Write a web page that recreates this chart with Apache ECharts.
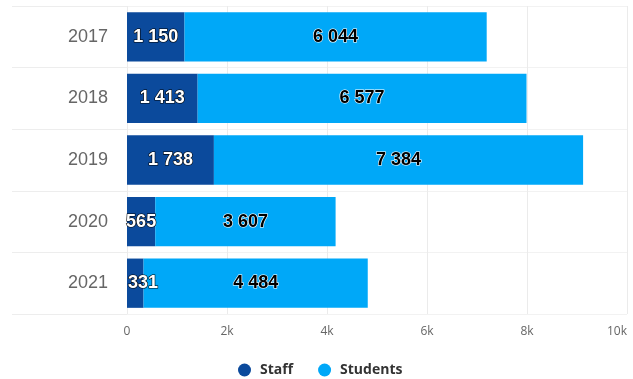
<!DOCTYPE html>
<html>
<head>
<meta charset="utf-8">
<style>
  html, body { margin: 0; padding: 0; background: #fff; }
  #chart { width: 633px; height: 379px; }
</style>
<script src="https://cdn.jsdelivr.net/npm/echarts@6/dist/echarts.min.js"></script>
</head>
<body>
<div id="chart"></div>
<script>
const years = ["2017", "2018", "2019", "2020", "2021"];
const staff = [1150, 1413, 1738, 565, 331];
const students = [6044, 6577, 7384, 3607, 4484];
const xTicks = ["0", "2k", "4k", "6k", "8k", "10k"];

const fmt = v => String(v).replace(/\B(?=(\d{3})+(?!\d))/g, " ");

const chart = echarts.init(document.getElementById("chart"));

// narrow staff segments: keep the label inside the plot like the original
const staffData = staff.map(v => v < 400
    ? { value: v, label: { position: "insideLeft", distance: 1 } }
    : v);

chart.setOption({
    animation: false,
    grid: { left: 127, right: 6, top: 6, bottom: 65, outerBoundsMode: "none" },
    legend: {
        top: 358,
        left: 233,
        icon: "circle",
        itemWidth: 13,
        itemHeight: 13,
        itemGap: 25,
        textStyle: {
            color: "#333",
            fontSize: 14,
            fontWeight: "bold",
            fontFamily: "Open Sans",
            padding: [0, 0, 0, 4]
        },
        data: ["Staff", "Students"]
    },
    xAxis: {
        type: "value",
        min: 0,
        max: 10000,
        interval: 2000,
        axisLine: { show: false },
        axisTick: { show: false },
        splitLine: { lineStyle: { color: "#ebebeb" } },
        axisLabel: {
            color: "#666",
            fontSize: 12,
            fontFamily: "Open Sans",
            margin: 12,
            alignMaxLabel: "right",
            formatter: v => xTicks[v / 2000]
        }
    },
    yAxis: {
        type: "category",
        inverse: true,
        data: years,
        axisLine: { show: false },
        axisTick: { show: true, length: 115, lineStyle: { color: "#ededed" } },
        splitLine: { show: true, lineStyle: { color: "#f2f2f2" } },
        axisLabel: {
            color: "#666",
            fontSize: 18,
            fontFamily: "Liberation Sans",
            margin: 19
        }
    },
    series: [
        {
            name: "Staff",
            type: "bar",
            stack: "total",
            data: staffData,
            barCategoryGap: "20%",
            itemStyle: { color: "#0b4a9c" },
            label: {
                show: true,
                position: "inside",
                formatter: p => fmt(p.value),
                color: "#fff",
                fontSize: 18,
                fontWeight: "bold",
                fontFamily: "Liberation Sans",
                textBorderColor: "#000",
                textBorderWidth: 1.2
            }
        },
        {
            name: "Students",
            type: "bar",
            stack: "total",
            data: students,
            barCategoryGap: "20%",
            itemStyle: { color: "#00a8f8" },
            label: {
                show: true,
                position: "inside",
                formatter: p => fmt(p.value),
                color: "#000",
                fontSize: 18,
                fontWeight: "bold",
                fontFamily: "Liberation Sans",
                textBorderColor: "#fff",
                textBorderWidth: 1.2
            }
        }
    ]
});
</script>
</body>
</html>
